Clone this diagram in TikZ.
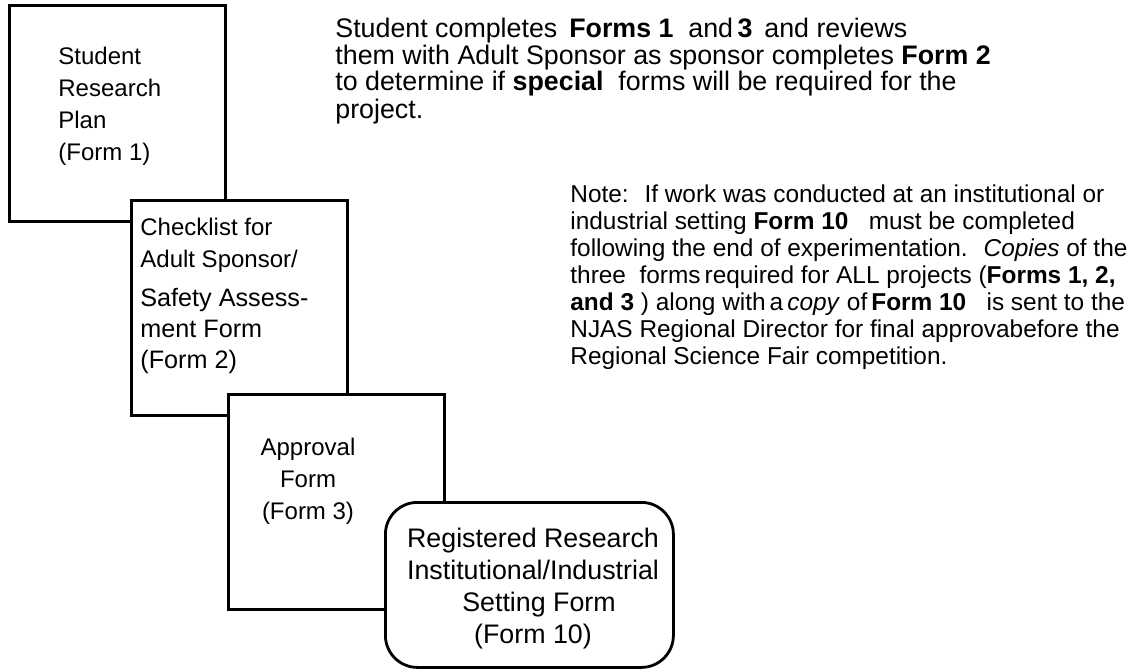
\documentclass[tikz,border=0pt]{standalone}
\usepackage{fontspec}
\setmainfont{Liberation Sans}
\usepackage{tikz}

\begin{document}
\begin{tikzpicture}[
    x=0.5pt, y=-0.5pt,
    formbox/.style={rectangle, draw, line width=1.4pt, fill=white, anchor=north west, inner sep=0pt},
    boxtxt/.style={inner sep=0pt, font=\fontsize{12pt}{16pt}\selectfont},
    bigtxt/.style={inner sep=0pt, font=\fontsize{13.4pt}{16pt}\selectfont},
    note/.style={inner sep=0pt, anchor=base west, align=left, font=\fontsize{12.2pt}{13.5pt}\selectfont}
]
    \useasboundingbox (0,0) rectangle (1130,669);

    % the four forms, each one laid over the one before
    \node[formbox, minimum width=108pt, minimum height=108pt] (form1) at (8,4) {};
    \node[boxtxt, anchor=base west, align=left] (form1txt) at (58,160) {Student\\Research\\Plan\\(Form 1)};

    \node[formbox, minimum width=108pt, minimum height=107.5pt] (form2) at (130,199) {};
    \node[boxtxt, anchor=base west, align=left] (form2top) at (140,267) {Checklist for\\Adult Sponsor/};
    \node[inner sep=0pt, anchor=base west, align=left, font=\fontsize{12.6pt}{15.5pt}\selectfont] (form2txt) at (140,368) {Safety Assess-\\ment Form\\(Form 2)};

    \node[formbox, minimum width=108pt, minimum height=107.5pt] (form3) at (227,393) {};
    \node[boxtxt, anchor=base, align=center] (form3txt) at (308,519) {Approval\\Form\\(Form 3)};

    \node[formbox, rounded corners=16pt, minimum width=144pt, minimum height=82.5pt] (form10) at (384,501) {};
    \node[bigtxt, anchor=base, align=center] (form10txt) at (533,643) {Registered Research\\Institutional/Industrial\\\hspace*{6pt}Setting Form\\(Form 10)};

    % explanations
    \node[note, font=\fontsize{13.4pt}{13.5pt}\selectfont] (steps) at (335,118) {Student completes \,\textbf{Forms 1}\ \ and\,\textbf{3}\,\ and reviews\\
        them with Adult Sponsor as sponsor completes \textbf{Form 2}\\
        to determine if \textbf{special}\ \ forms will be required for the\\
        project.};
    \node[note] (remark) at (570,364) {Note: \ If work was conducted at an institutional or\\
        industrial setting \textbf{Form 10}\ \ \ must be completed\\
        following the end of experimentation. \ \textit{Copies} of the\\
        three \ forms\,required for ALL projects (\textbf{Forms 1, 2,}\\
        \textbf{and 3}\ ) along with\,a\,\textit{copy} of\,\textbf{Form 10}\ \ \ is sent to the\\
        NJAS Regional Director for final approvabefore the\\
        Regional Science Fair competition.};
\end{tikzpicture}
\end{document}
